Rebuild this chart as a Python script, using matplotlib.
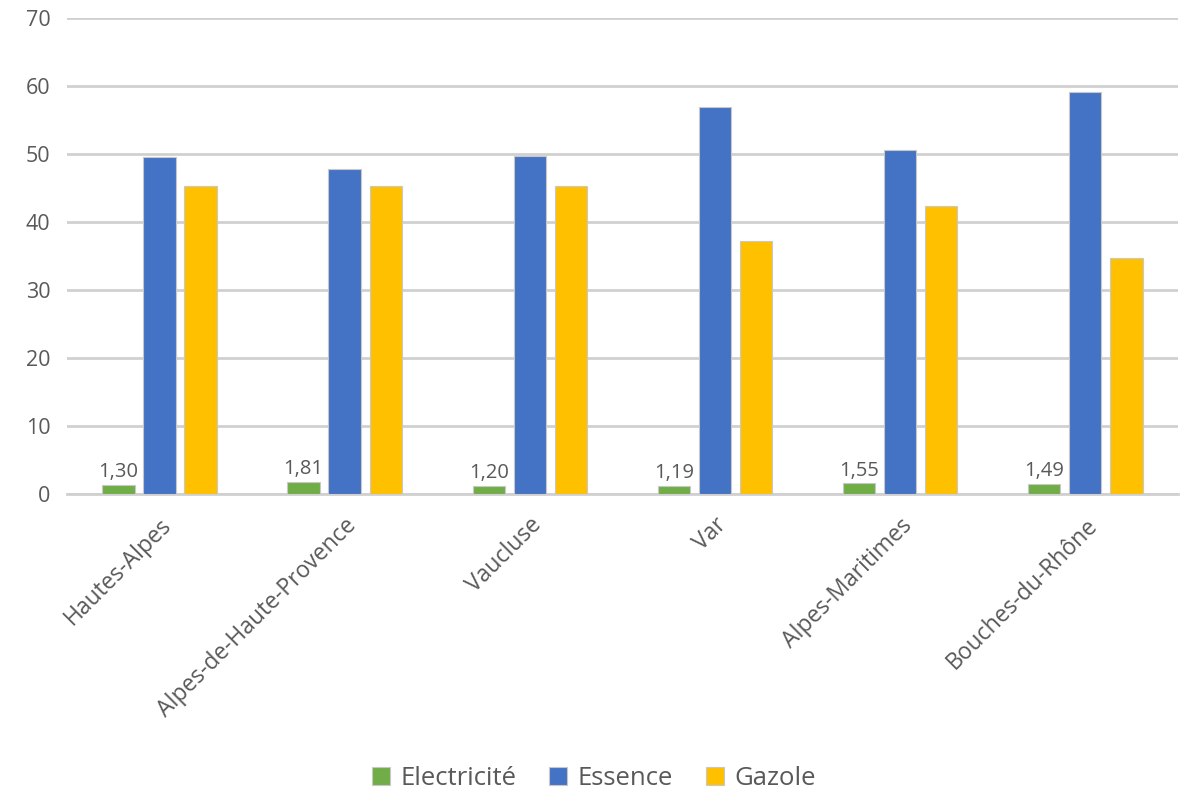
import matplotlib
matplotlib.use("Agg")
import matplotlib.pyplot as plt
import numpy as np

# Data
departements = ["Hautes-Alpes", "Alpes-de-Haute-Provence", "Vaucluse",
                "Var", "Alpes-Maritimes", "Bouches-du-Rhône"]
electricite = [1.30, 1.81, 1.20, 1.19, 1.55, 1.49]
essence = [49.6, 47.8, 49.7, 56.9, 50.6, 59.1]
gazole = [45.3, 45.3, 45.3, 37.2, 42.4, 34.7]

series_names = ["Electricité", "Essence", "Gazole"]
colors = ["#70ad47", "#4472c4", "#ffc000"]
text_color = "#595959"

plt.rcParams["font.family"] = ["Open Sans", "DejaVu Sans"]

fig = plt.figure(figsize=(11.88, 7.92), dpi=100)
ax = fig.add_axes([0.0564, 0.3763, 0.935, 0.601])

x = np.arange(len(departements))
width = 0.175
step = 0.222

for i, (vals, name, col) in enumerate(zip([electricite, essence, gazole], series_names, colors)):
    bars = ax.bar(x + (i - 1) * step, vals, width, color=col, label=name,
                  edgecolor="#c8c8c8", linewidth=0.8, zorder=3)
    if i == 0:
        for b, v in zip(bars, vals):
            ax.annotate(f"{v:.2f}".replace(".", ","),
                        (b.get_x() + b.get_width() / 2, b.get_height()),
                        xytext=(0, 2), textcoords="offset points",
                        ha="center", va="bottom", fontsize=14.5, color=text_color)

ax.set_ylim(0, 70)
ax.set_yticks(range(0, 71, 10))
ax.set_xlim(-0.5, len(departements) - 0.5)
ax.yaxis.grid(True, color="#d0d0d0", linewidth=2, zorder=0)
ax.set_axisbelow(True)
for s in ["top", "right", "left"]:
    ax.spines[s].set_visible(False)
ax.spines["bottom"].set_color("#d0d0d0")
ax.spines["bottom"].set_linewidth(2)

ax.tick_params(axis="y", length=0, labelsize=15.5, colors=text_color, pad=12)
ax.set_xticks(x)
ax.set_xticklabels(departements, rotation=45, ha="right", rotation_mode="anchor")
ax.tick_params(axis="x", length=0, labelsize=16.5, colors=text_color, pad=14)

leg = fig.legend(loc="lower center", bbox_to_anchor=(0.5, -0.028), ncol=3,
                 frameon=False, fontsize=18.5, handlelength=0.7, handleheight=0.7,
                 columnspacing=1.3, handletextpad=0.4)
for t in leg.get_texts():
    t.set_color(text_color)

fig.savefig("out.png", dpi=100)
